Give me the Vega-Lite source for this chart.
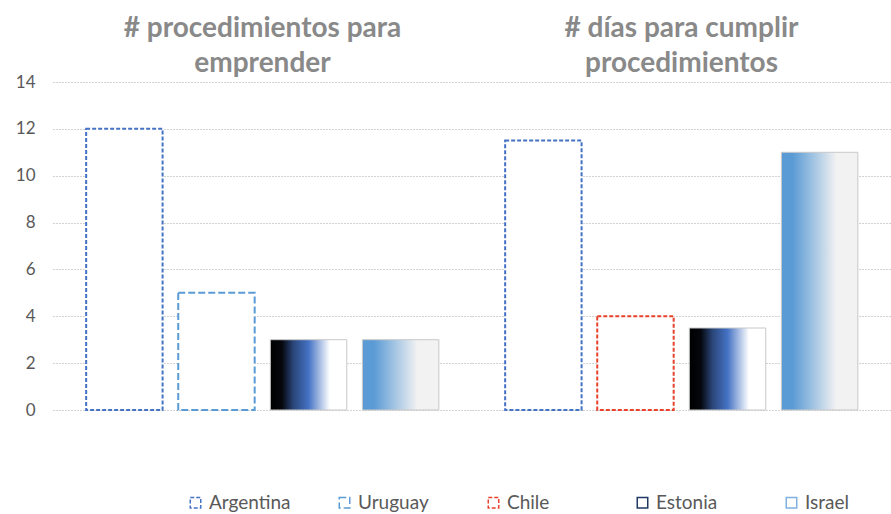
{
  "$schema": "https://vega.github.io/schema/vega-lite/v6.json",
  "background": "white",
  "padding": {"left": 0, "top": 15, "right": 0, "bottom": 0},
  "data": {
    "values": [
      {"indicador": "# procedimientos para emprender", "pais": "Argentina", "valor": 12},
      {"indicador": "# procedimientos para emprender", "pais": "Uruguay", "valor": 5},
      {"indicador": "# procedimientos para emprender", "pais": "Estonia", "valor": 3},
      {"indicador": "# procedimientos para emprender", "pais": "Israel", "valor": 3},
      {"indicador": "# días para cumplir procedimientos", "pais": "Argentina", "valor": 11.5},
      {"indicador": "# días para cumplir procedimientos", "pais": "Chile", "valor": 4},
      {"indicador": "# días para cumplir procedimientos", "pais": "Estonia", "valor": 3.5},
      {"indicador": "# días para cumplir procedimientos", "pais": "Israel", "valor": 11}
    ]
  },
  "facet": {
    "column": {
      "field": "indicador",
      "type": "nominal",
      "sort": ["# procedimientos para emprender", "# días para cumplir procedimientos"],
      "title": null,
      "header": {
        "labelOrient": "top",
        "labelFont": "Lato",
        "labelFontSize": 28,
        "labelFontWeight": "bold",
        "labelColor": "#898989",
        "labelLineHeight": 35,
        "labelPadding": 4,
        "labelExpr": "datum.value == '# procedimientos para emprender' ? ['# procedimientos para', 'emprender'] : ['# días para cumplir', 'procedimientos']"
      }
    }
  },
  "spacing": 0,
  "resolve": {"scale": {"x": "independent"}},
  "spec": {
    "width": 419,
    "height": 328,
    "encoding": {
      "x": {
        "field": "pais",
        "type": "nominal",
        "sort": ["Argentina", "Uruguay", "Chile", "Estonia", "Israel"],
        "axis": null,
        "scale": {"paddingInner": 0.17, "paddingOuter": 0.36}
      },
      "y": {
        "field": "valor",
        "type": "quantitative",
        "scale": {"domain": [0, 14]},
        "axis": {
          "title": null,
          "values": [0, 2, 4, 6, 8, 10, 12, 14],
          "domain": false,
          "ticks": false,
          "labelFont": "Lato",
          "labelFontSize": 17,
          "labelColor": "#595959",
          "labelPadding": 18,
          "minExtent": 53,
          "grid": true,
          "gridColor": "#a6a6a6",
          "gridDash": [1, 2],
          "gridWidth": 1
        }
      }
    },
    "layer": [
      {
        "transform": [{"filter": "datum.pais == 'Argentina' || datum.pais == 'Uruguay' || datum.pais == 'Chile'"}],
        "mark": {"type": "bar", "fill": "#ffffff", "strokeWidth": 2},
        "encoding": {
          "stroke": {
            "field": "pais",
            "type": "nominal",
            "title": null,
            "scale": {
              "domain": ["Argentina", "Uruguay", "Chile", "Estonia", "Israel"],
              "range": ["#4472C4", "#5B9BD5", "#E8412C", "#1f3864", "#7fb0e0"]
            },
            "legend": {
              "orient": "none",
              "legendX": 133,
              "legendY": 411,
              "direction": "horizontal",
              "columns": 5,
              "gridAlign": "all",
              "columnPadding": 44,
              "symbolType": "square",
              "symbolSize": 110,
              "symbolStrokeWidth": 1.5,
              "labelFont": "Lato",
              "labelFontSize": 19,
              "labelColor": "#595959",
              "labelOffset": 4,
              "encode": {
                "symbols": {
                  "fill": {
                    "condition": [
                      {"test": "datum.value == 'Estonia'", "value": "#1f3864"},
                      {"test": "datum.value == 'Israel'", "value": "#7fb0e0"}
                    ],
                    "value": "#ffffff"
                  },
                  "opacity": {"value": 1}
                }
              }
            }
          },
          "strokeDash": {
            "field": "pais",
            "type": "nominal",
            "title": null,
            "scale": {
              "domain": ["Argentina", "Uruguay", "Chile", "Estonia", "Israel"],
              "range": [[4, 2], [7, 3], [4, 2], [1, 0], [1, 0]]
            }
          }
        }
      },
      {
        "transform": [{"filter": "datum.pais == 'Estonia'"}],
        "mark": {
          "type": "bar",
          "stroke": "#c8c8c8",
          "strokeWidth": 1,
          "fill": {"gradient": "linear", "x1": 0, "y1": 0, "x2": 1, "y2": 0, "stops": [
            {"offset": 0, "color": "#000000"},
            {"offset": 0.15, "color": "#05070d"},
            {"offset": 0.3, "color": "#2a4578"},
            {"offset": 0.5, "color": "#4472C4"},
            {"offset": 0.78, "color": "#ffffff"},
            {"offset": 1, "color": "#ffffff"}
          ]}
        }
      },
      {
        "transform": [{"filter": "datum.pais == 'Israel'"}],
        "mark": {
          "type": "bar",
          "stroke": "#c8c8c8",
          "strokeWidth": 1,
          "fill": {"gradient": "linear", "x1": 0, "y1": 0, "x2": 1, "y2": 0, "stops": [
            {"offset": 0, "color": "#5B9BD5"},
            {"offset": 0.15, "color": "#5B9BD5"},
            {"offset": 0.72, "color": "#f2f2f2"},
            {"offset": 1, "color": "#f2f2f2"}
          ]}
        }
      }
    ]
  },
  "config": {
    "view": {"stroke": null}
  }
}
